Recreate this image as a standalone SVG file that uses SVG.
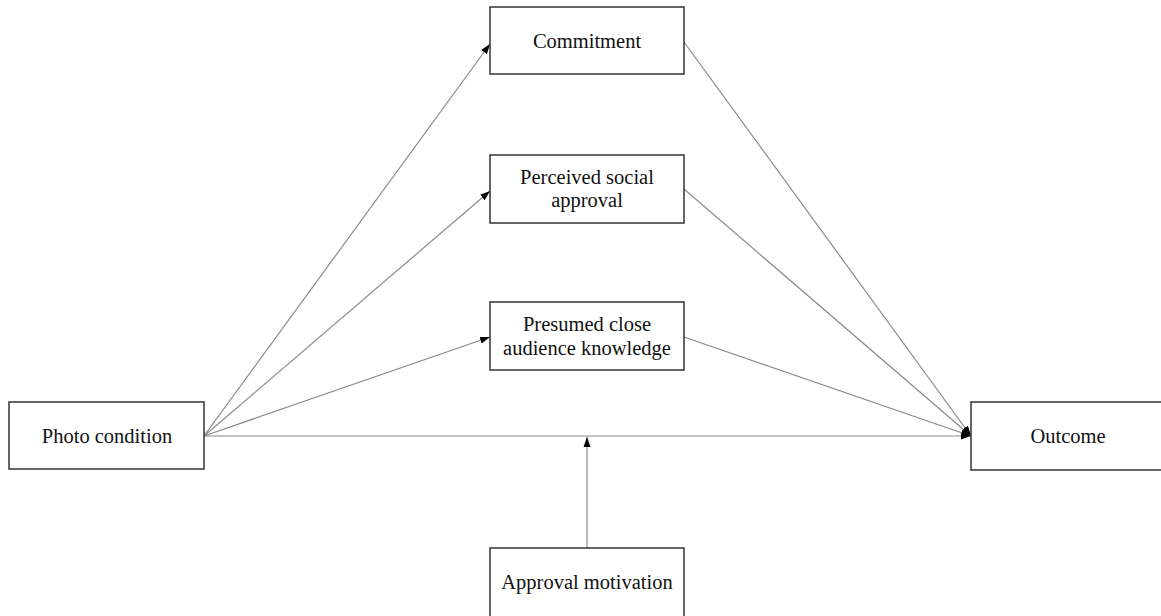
<svg xmlns="http://www.w3.org/2000/svg" width="1161" height="616" viewBox="0 0 1161 616">
<style>
.box{fill:#fff;stroke:#333;stroke-width:1.5}
.lbl{font-family:"Liberation Serif","Times New Roman",serif;font-size:20.5px;fill:#111;text-anchor:middle}
.ln{stroke:#8a8a8a;stroke-width:1.2;fill:none}
</style>
<defs>
<marker id="ah" markerUnits="userSpaceOnUse" markerWidth="10" markerHeight="10" viewBox="0 0 10 10" refX="10" refY="5" orient="auto">
<path d="M0,1.5 L10,5 L0,8.5 Z" fill="#000"/>
</marker>
</defs>
<rect width="1161" height="616" fill="#fff"/>
<g id="connectors">
<line class="ln" x1="204" y1="436" x2="490" y2="44" marker-end="url(#ah)"/>
<line class="ln" x1="204" y1="436" x2="490" y2="191" marker-end="url(#ah)"/>
<line class="ln" x1="204" y1="436" x2="490" y2="337" marker-end="url(#ah)"/>
<line class="ln" x1="204" y1="436" x2="971" y2="436" marker-end="url(#ah)"/>
<line class="ln" x1="684" y1="42" x2="971" y2="436" marker-end="url(#ah)"/>
<line class="ln" x1="684" y1="189" x2="971" y2="436" marker-end="url(#ah)"/>
<line class="ln" x1="684" y1="337" x2="971" y2="436" marker-end="url(#ah)"/>
<line class="ln" x1="587" y1="548" x2="587" y2="437" marker-end="url(#ah)"/>
</g>
<g id="commitment">
<rect class="box" x="490" y="7" width="194" height="67"/>
<text class="lbl" x="587" y="48">Commitment</text>
</g>
<g id="perceived">
<rect class="box" x="490" y="155" width="194" height="68"/>
<text class="lbl" x="587" y="184">Perceived social</text>
<text class="lbl" x="587" y="207">approval</text>
</g>
<g id="presumed">
<rect class="box" x="490" y="302" width="194" height="68"/>
<text class="lbl" x="587" y="331">Presumed close</text>
<text class="lbl" x="587" y="355">audience knowledge</text>
</g>
<g id="photo">
<rect class="box" x="9" y="402" width="195" height="67"/>
<text class="lbl" x="107" y="443">Photo condition</text>
</g>
<g id="outcome">
<rect class="box" x="971" y="402" width="200" height="68"/>
<text class="lbl" x="1068" y="443">Outcome</text>
</g>
<g id="approval">
<rect class="box" x="490" y="548" width="194" height="70"/>
<text class="lbl" x="587" y="589">Approval motivation</text>
</g>
</svg>
